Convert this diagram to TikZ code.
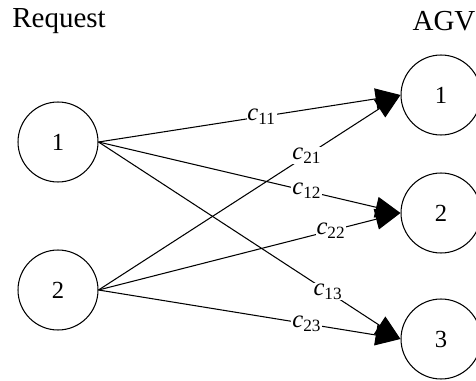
\documentclass[tikz,border=0pt]{standalone}
\usepackage{fontspec}
\setmainfont{Liberation Serif}
\usetikzlibrary{arrows.meta}
\newcommand{\cost}[1]{{\fontsize{14}{16}\selectfont\textit{c}\textsubscript{#1}}}

\tikzset{
	site/.style={draw, circle, line width=0.6pt, minimum size=1.6cm, inner sep=0pt, font=\fontsize{14}{16}\selectfont},
	link/.style={line width=0.6pt, -{Triangle[length=5mm, width=4.2mm]}},
	cost/.style={fill=white, inner sep=0.5pt}
}

\begin{document}
\begin{tikzpicture}[x=0.02cm, y=-0.02cm]
		%%%%% START %%%%%
		\useasboundingbox (0, 0) rectangle (476, 381);
		
		\node[font=\fontsize{16.5}{19}\selectfont] (reqtitle) at (59, 21) {Request};
		\node[font=\fontsize{16.5}{19}\selectfont] (agvtitle) at (444, 21) {AGV};
		
		\node[site] (r1) at (58, 142) {1};
		\node[site] (r2) at (58, 290) {2};
		
		\node[site] (a1) at (441, 95) {1};
		\node[site] (a2) at (441, 213) {2};
		\node[site] (a3) at (441, 339) {3};
		
		\draw[link] (r1.east) -- node[cost, pos=0.54] {\cost{11}} (a1.west);
		\draw[link] (r2.east) -- node[cost, pos=0.69] {\cost{21}} (a1.west);
		\draw[link] (r1.east) -- node[cost, pos=0.69] {\cost{12}} (a2.west);
		\draw[link] (r2.east) -- node[cost, pos=0.77] {\cost{22}} (a2.west);
		\draw[link] (r1.east) -- node[cost, pos=0.76] {\cost{13}} (a3.west);
		\draw[link] (r2.east) -- node[cost, pos=0.69] {\cost{23}} (a3.west);
		
		%%%%% END %%%%%
	\end{tikzpicture}
\end{document}
